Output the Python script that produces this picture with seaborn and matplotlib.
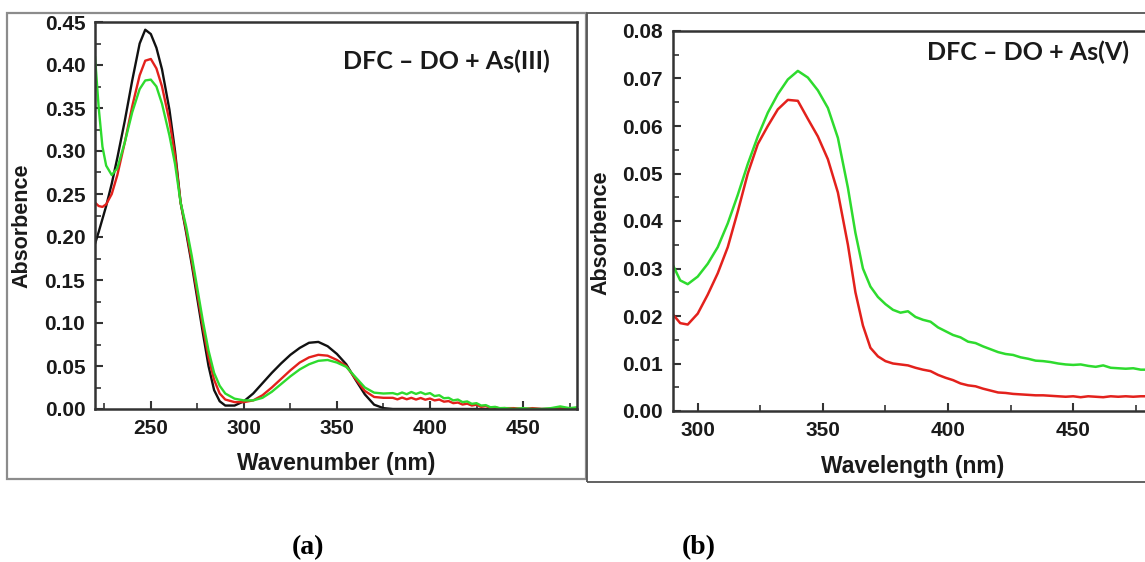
import numpy as np
import pandas as pd
import matplotlib
matplotlib.use("Agg")
import matplotlib.pyplot as plt
import seaborn as sns
from matplotlib.patches import Rectangle
from matplotlib.ticker import MultipleLocator, FormatStrFormatter

# ---------------- panel (a) data : DFC-DO + As(III) ----------------
wl_a = [220, 222, 224, 226, 229, 232, 236, 240, 244, 247, 250, 253, 256, 260, 263, 266,
        269, 272, 275, 278, 281, 284, 287, 290,
        295, 300, 305, 310, 315, 320, 325, 330, 335, 340, 345, 350, 355, 360, 365, 370, 375,
        380, 382.5, 385, 387.5, 390, 392.5, 395, 397.5, 400, 402.5, 405, 407.5, 410, 412.5,
        415, 417.5, 420, 422.5, 425, 427.5, 430, 432.5, 435, 437.5, 440,
        445, 450, 455, 460, 465, 470, 475, 479]

black_a = [0.192, 0.206, 0.221, 0.236, 0.262, 0.292, 0.335, 0.382, 0.425, 0.441, 0.436, 0.420, 0.395, 0.348, 0.300, 0.240,
           0.205, 0.168, 0.128, 0.088, 0.050, 0.022, 0.009, 0.004,
           0.004, 0.009, 0.018, 0.030, 0.042, 0.053, 0.063, 0.071, 0.077, 0.078, 0.073, 0.064, 0.052, 0.034, 0.017, 0.005, 0.001,
           0.000, 0.000, 0.000, 0.000, 0.000, 0.000, 0.000, 0.000, 0.000, 0.000, 0.000, 0.000, 0.000, 0.000,
           0.000, 0.000, 0.000, 0.000, 0.000, 0.000, 0.000, 0.000, 0.000, 0.000, 0.000,
           0.000, 0.000, 0.000, 0.000, 0.000, 0.000, 0.000, 0.000]

red_a = [0.240, 0.236, 0.235, 0.238, 0.250, 0.272, 0.310, 0.352, 0.388, 0.405, 0.407, 0.396, 0.375, 0.335, 0.295, 0.240,
         0.208, 0.172, 0.134, 0.095, 0.060, 0.034, 0.018, 0.011,
         0.008, 0.008, 0.010, 0.016, 0.025, 0.035, 0.045, 0.054, 0.060, 0.063, 0.062, 0.057, 0.050, 0.035, 0.021, 0.014, 0.013,
         0.0130, 0.0112, 0.0133, 0.0113, 0.0130, 0.0110, 0.0128, 0.0108, 0.0122, 0.0100, 0.0110, 0.0085, 0.0092, 0.0068,
         0.0075, 0.0052, 0.0062, 0.0040, 0.0050, 0.0025, 0.0035, 0.0012, 0.0020, 0.0005, 0.0010,
         0.001, 0.000, 0.001, 0.000, 0.000, 0.001, 0.000, 0.000]

green_a = [0.410, 0.350, 0.305, 0.283, 0.272, 0.280, 0.310, 0.345, 0.372, 0.382, 0.383, 0.375, 0.355, 0.318, 0.285, 0.240,
           0.212, 0.178, 0.140, 0.102, 0.068, 0.042, 0.027, 0.018,
           0.012, 0.010, 0.010, 0.013, 0.020, 0.029, 0.038, 0.046, 0.052, 0.056, 0.057, 0.054, 0.049, 0.037, 0.025, 0.019, 0.018,
           0.0185, 0.0170, 0.0192, 0.0172, 0.0198, 0.0175, 0.0195, 0.0172, 0.0185, 0.0150, 0.0160, 0.0125, 0.0130, 0.0100,
           0.0110, 0.0080, 0.0088, 0.0060, 0.0068, 0.0040, 0.0045, 0.0020, 0.0025, 0.0010, 0.0012,
           0.000, 0.001, 0.000, 0.000, 0.001, 0.003, 0.001, 0.002]

# ---------------- panel (b) data : DFC-DO + As(V) ----------------
wl_b = [290, 293, 296, 300, 304, 308, 312, 316, 320, 324, 328, 332, 336, 340, 344, 348, 352, 356, 360,
        363, 366, 369, 372, 375,
        378, 381, 384, 387, 390, 393, 396, 399, 402, 405, 408, 411, 414, 417, 420, 423, 426, 429,
        432, 435, 438, 441, 444, 447, 450, 453, 456, 459, 462, 465, 468, 471, 474, 477, 480]

green_b = [0.0308, 0.0275, 0.0267, 0.0283, 0.0310, 0.0345, 0.0395, 0.0455, 0.0520, 0.0578, 0.0628, 0.0667, 0.0698, 0.0716,
           0.0702, 0.0675, 0.0638, 0.0575, 0.0470,
           0.0375, 0.0300, 0.0262, 0.0240, 0.0225,
           0.0213, 0.0207, 0.0210, 0.0198, 0.0192, 0.0188, 0.0176, 0.0168, 0.0160, 0.0155, 0.0146, 0.0143, 0.0136, 0.0130,
           0.0124, 0.0120, 0.0118, 0.0113,
           0.0110, 0.0106, 0.0105, 0.0103, 0.0100, 0.0098, 0.0097, 0.0098, 0.0095, 0.0093, 0.0096, 0.0091, 0.0090, 0.0089,
           0.0090, 0.0087, 0.0087]

red_b = [0.0204, 0.0185, 0.0182, 0.0205, 0.0245, 0.0290, 0.0345, 0.0420, 0.0500, 0.0562, 0.0600, 0.0635, 0.0655, 0.0653,
         0.0615, 0.0578, 0.0530, 0.0460, 0.0350,
         0.0250, 0.0180, 0.0133, 0.0115, 0.0105,
         0.0100, 0.0098, 0.0096, 0.0091, 0.0087, 0.0084, 0.0076, 0.0070, 0.0065, 0.0058, 0.0054, 0.0052, 0.0047, 0.0043,
         0.0039, 0.0038, 0.0036, 0.0035,
         0.0034, 0.0033, 0.0033, 0.0032, 0.0031, 0.0030, 0.0031, 0.0029, 0.0031, 0.0030, 0.0029, 0.0031, 0.0030, 0.0031,
         0.0030, 0.0031, 0.0031]

title_a = "DFC – DO + As(III)"
title_b = "DFC – DO + As(V)"

# ---------------- styling ----------------
sns.set_theme(style="white")
plt.rcParams['font.family'] = ['Liberation Sans', 'DejaVu Sans']
plt.rcParams['font.weight'] = 'bold'

BLACK = '#111111'
RED = '#e3211c'
GREEN = '#2edb2e'
SPINE = '#333333'

W, H = 1145, 562
fig = plt.figure(figsize=(W / 100, H / 100), dpi=100)
fig.patch.set_facecolor('white')


def fx(px):
    return px / W


def fy(py):
    return 1 - py / H


# panel frames
fig.add_artist(Rectangle((fx(7), fy(479)), fx(586) - fx(7), (479 - 13) / H,
                         transform=fig.transFigure, fill=False, edgecolor='#8c8c8c', lw=1.6, zorder=0))
fig.add_artist(Rectangle((fx(587), fy(482)), 1.0, (482 - 13) / H,
                         transform=fig.transFigure, fill=False, edgecolor='#555555', lw=1.3, zorder=0))

ax1 = fig.add_axes([fx(95), fy(409), fx(577) - fx(95), (409 - 22) / H])
ax2 = fig.add_axes([fx(672.7), fy(411), 1 - fx(672.7), (411 - 31) / H])

n_a = len(wl_a)
df_a = pd.DataFrame({
    'wl': wl_a * 3,
    'abs': black_a + red_a + green_a,
    'sample': ['black'] * n_a + ['red'] * n_a + ['green'] * n_a,
})
n_b = len(wl_b)
df_b = pd.DataFrame({
    'wl': wl_b * 2,
    'abs': red_b + green_b,
    'sample': ['red'] * n_b + ['green'] * n_b,
})
pal = {'black': BLACK, 'red': RED, 'green': GREEN}

sns.lineplot(data=df_a, x='wl', y='abs', hue='sample', palette=pal, ax=ax1,
             legend=False, lw=1.7, estimator=None, sort=False)
sns.lineplot(data=df_b, x='wl', y='abs', hue='sample', palette=pal, ax=ax2,
             legend=False, lw=1.8, estimator=None, sort=False)

ax1.set_xlim(220, 479)
ax1.set_ylim(0, 0.45)
ax2.set_xlim(290, 478.7)
ax2.set_ylim(0, 0.08)

ax1.xaxis.set_major_locator(MultipleLocator(50))
ax1.xaxis.set_minor_locator(MultipleLocator(25))
ax1.yaxis.set_major_locator(MultipleLocator(0.05))
ax1.yaxis.set_minor_locator(MultipleLocator(0.025))
ax2.xaxis.set_major_locator(MultipleLocator(50))
ax2.xaxis.set_minor_locator(MultipleLocator(25))
ax2.yaxis.set_major_locator(MultipleLocator(0.01))
ax2.yaxis.set_minor_locator(MultipleLocator(0.005))

for ax in (ax1, ax2):
    ax.yaxis.set_major_formatter(FormatStrFormatter('%.2f'))
    ax.xaxis.set_major_formatter(FormatStrFormatter('%d'))
    ax.tick_params(which='major', direction='in', length=6, width=1.5, color=SPINE,
                   labelsize=15, pad=7, labelcolor='#1a1a1a', bottom=True, left=True, top=False, right=False)
    ax.tick_params(which='minor', direction='in', length=4, width=1.2, color=SPINE,
                   bottom=True, left=True, top=False, right=False)
    for lab in ax.get_xticklabels() + ax.get_yticklabels():
        lab.set_fontweight('bold')
    for s in ax.spines.values():
        s.set_color(SPINE)
        s.set_linewidth(1.8)
    ax.set_facecolor('none')

ax2.spines['right'].set_visible(False)

ax1.set_xlabel('Wavenumber (nm)', fontsize=16.5, fontweight='bold', va='center', color='#1a1a1a')
ax1.set_ylabel('Absorbence', fontsize=15.5, fontweight='bold', va='center', color='#1a1a1a')
ax1.xaxis.set_label_coords(0.5, -0.142)
ax1.yaxis.set_label_coords(-0.152, 0.473)

ax2.set_xlabel('Wavelength (nm)', fontsize=16.5, fontweight='bold', va='center', color='#1a1a1a')
ax2.set_ylabel('Absorbence', fontsize=15.5, fontweight='bold', va='center', color='#1a1a1a')
ax2.xaxis.set_label_coords(0.507, -0.147)
ax2.yaxis.set_label_coords(-0.152, 0.47)

fig.text(fx(446), fy(61), title_a, family=['Lato', 'DejaVu Sans'], fontweight='bold',
         fontsize=18, ha='center', va='center', color='#1a1a1a')
fig.text(fx(1028), fy(52), title_b, family=['Lato', 'DejaVu Sans'], fontweight='bold',
         fontsize=18, ha='center', va='center', color='#1a1a1a')

fig.text(fx(308), fy(548), '(a)', family=['Liberation Serif', 'DejaVu Serif'], fontweight='bold',
         fontsize=20, ha='center', va='center', color='black')
fig.text(fx(699), fy(548), '(b)', family=['Liberation Serif', 'DejaVu Serif'], fontweight='bold',
         fontsize=20, ha='center', va='center', color='black')

fig.savefig('out.png', dpi=100, facecolor='white')
